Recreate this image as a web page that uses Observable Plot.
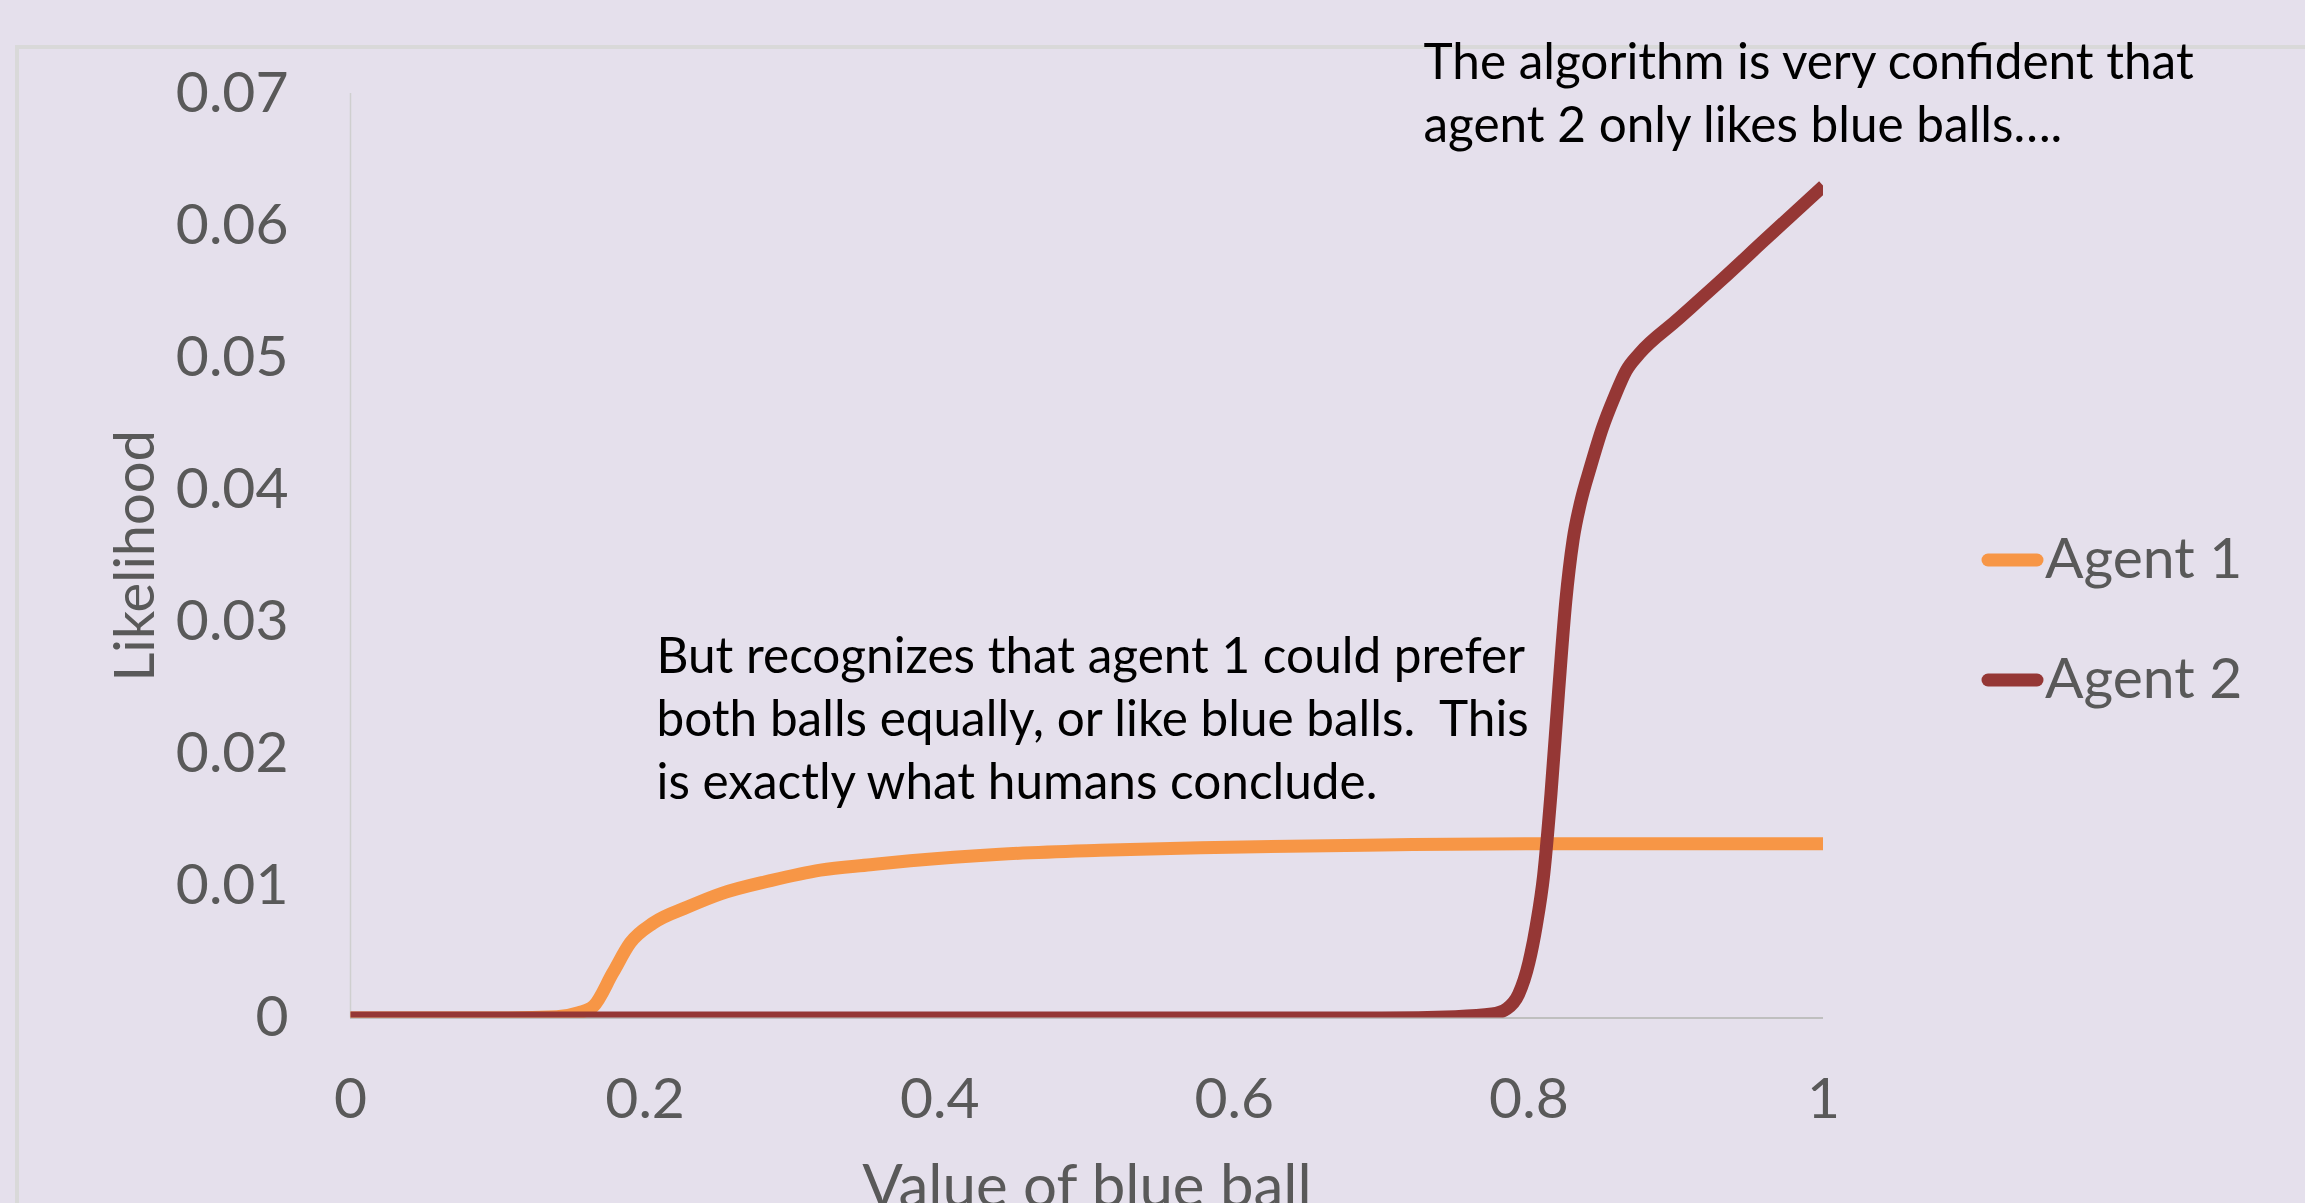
<!DOCTYPE html>
<html><head><meta charset="utf-8">
<script src="https://cdn.jsdelivr.net/npm/d3@7"></script>
<script src="https://cdn.jsdelivr.net/npm/@observablehq/plot@0.6"></script>
<style>
html,body{margin:0;padding:0;width:2305px;height:1203px;overflow:hidden;background:#e5e0ec;}
#frame{position:absolute;left:15px;top:45px;width:4000px;height:4000px;border:4px solid #d9d9d9;box-sizing:border-box}
#chart{position:absolute;left:0;top:0}
#legend{position:absolute;left:0;top:0;pointer-events:none}
</style></head><body>
<div id="frame"></div>
<div id="chart"></div>
<svg id="legend" width="2305" height="1203"></svg>
<script>
// ---- data ----
const agent1X = [0, 0.10, 0.14, 0.155, 0.165, 0.178, 0.19, 0.2057, 0.2288, 0.2512, 0.2851, 0.319, 0.353, 0.38, 0.441, 0.509, 0.577, 0.70, 0.80, 0.90, 1.00];
const agent1Y = [0, 0, 0.0001, 0.0004, 0.0009, 0.0034, 0.0057, 0.0072, 0.0084, 0.0094, 0.0104, 0.0112, 0.0116, 0.0119, 0.0124, 0.0127, 0.0129, 0.0131, 0.0132, 0.0132, 0.0132];
const agent2X = [0, 0.50, 0.70, 0.75, 0.775, 0.785, 0.793, 0.800, 0.805, 0.810, 0.815, 0.820, 0.825, 0.830, 0.835, 0.842, 0.850, 0.858, 0.866, 0.875, 0.900, 0.930, 0.960, 1.00];
const agent2Y = [0, 0, 0, 0.0001, 0.0003, 0.0007, 0.0018, 0.0042, 0.0070, 0.0108, 0.0170, 0.0245, 0.0315, 0.0362, 0.0390, 0.0418, 0.0447, 0.0470, 0.0490, 0.0503, 0.0528, 0.0558, 0.0589, 0.0630];
const seriesNames = ["Agent 1", "Agent 2"];
const seriesColors = ["#f79646", "#953735"];
const xTicks = [0, 0.2, 0.4, 0.6, 0.8, 1];
const yTicks = [0, 0.01, 0.02, 0.03, 0.04, 0.05, 0.06, 0.07];
const xTitle = "Value of blue ball";
const yTitle = "Likelihood";
const note1 = "The algorithm is very confident that\nagent 2 only likes blue balls….";
const note2 = "But recognizes that agent 1 could prefer\nboth balls equally, or like blue balls.  This\nis exactly what humans conclude.";

const rows = [
  ...agent1X.map((x, i) => ({series: seriesNames[0], x, y: agent1Y[i]})),
  ...agent2X.map((x, i) => ({series: seriesNames[1], x, y: agent2Y[i]}))
];
const fmt = d => String(+d.toFixed(2));
const FONT = "Lato, 'Open Sans', sans-serif";

const chart = Plot.plot({
  width: 2305,
  height: 1203,
  marginLeft: 350,
  marginRight: 482,
  marginTop: 93,
  marginBottom: 185.5,
  style: {fontFamily: FONT, background: "transparent", overflow: "visible"},
  x: {domain: [0, 1]},
  y: {domain: [0, 0.07]},
  color: {domain: seriesNames, range: seriesColors},
  marks: [
    Plot.ruleX([0], {stroke: "#cfcfcf", strokeWidth: 1.5}),
    Plot.ruleY([0], {stroke: "#bfbfbf", strokeWidth: 2}),
    Plot.axisY({ticks: yTicks, tickSize: 0, tickPadding: 62, fontSize: 57, color: "#595959", tickFormat: fmt, label: null}),
    Plot.axisX({ticks: xTicks, tickSize: 0, tickPadding: 60, fontSize: 57, color: "#595959", tickFormat: fmt, label: null}),
    Plot.line(rows, {x: "x", y: "y", z: "series", stroke: "series", strokeWidth: 13, curve: "monotone-x", strokeLinecap: "butt", strokeLinejoin: "round", clip: true}),
    Plot.text([xTitle], {frameAnchor: "bottom", lineAnchor: "top", dy: 146, fontSize: 60, fill: "#595959"}),
    Plot.text([yTitle], {frameAnchor: "left", textAnchor: "middle", rotate: -90, dx: -214, fontSize: 56, fill: "#595959"}),
    Plot.text([note1], {frameAnchor: "top-left", textAnchor: "start", lineAnchor: "top", dx: 1073, dy: -59, fontSize: 49.5, lineHeight: 1.273, fill: "#000"}),
    Plot.text([note2], {frameAnchor: "top-left", textAnchor: "start", lineAnchor: "top", dx: 306, dy: 535, fontSize: 49.5, lineHeight: 1.273, fill: "#000"})
  ]
});
document.getElementById("chart").appendChild(chart);

// legend (right side)
const lg = d3.select("#legend");
const legendRows = [{y: 560, base: 578}, {y: 680, base: 698}];
seriesNames.forEach((name, i) => {
  lg.append("line").attr("x1", 1988).attr("x2", 2037).attr("y1", legendRows[i].y).attr("y2", legendRows[i].y)
    .attr("stroke", seriesColors[i]).attr("stroke-width", 13).attr("stroke-linecap", "round");
  lg.append("text").attr("x", 2045).attr("y", legendRows[i].base).attr("font-family", FONT)
    .attr("font-size", 57).attr("fill", "#595959").text(name);
});
</script>
</body></html>
